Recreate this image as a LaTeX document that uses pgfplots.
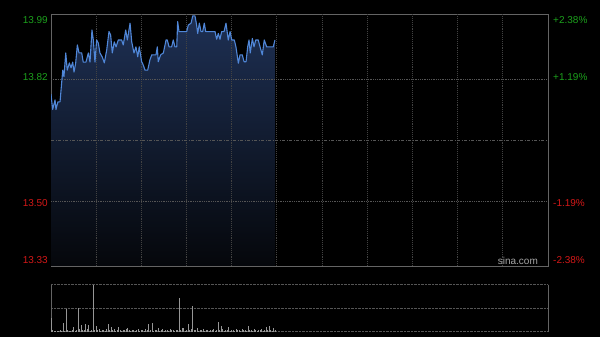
\documentclass[border=0pt]{standalone}
\usepackage{fontspec}
\setmainfont{Liberation Sans}
\usepackage{pgfplots}
\usepackage{pgfplotstable}
\pgfplotsset{compat=1.18}
\definecolor{upgreen}{RGB}{28,160,28}
\definecolor{downred}{RGB}{212,24,24}
\definecolor{linebl}{RGB}{80,135,216}
\definecolor{framegr}{RGB}{100,100,100}
\definecolor{gridgr}{RGB}{66,66,66}
\definecolor{hgridgr}{RGB}{85,85,85}
\definecolor{volgr}{RGB}{150,150,150}
\pgfplotstableread{
m p
0 13.78
1.1 13.74
2.7 13.765
3.3 13.74
4.6 13.76
6.0 13.76
7.8 13.843
8.6 13.826
9.8 13.888
10.8 13.843
12.2 13.862
13.3 13.849
14.4 13.864
15.3 13.838
16.4 13.862
17.5 13.909
18.6 13.888
20.4 13.888
21.4 13.864
23.2 13.864
24.8 13.888
25.9 13.864
27.2 13.948
28.1 13.922
29.2 13.864
30.3 13.922
31.4 13.914
32.5 13.888
34.1 13.877
35.4 13.862
37.0 13.896
38.5 13.944
39.6 13.935
40.7 13.888
42.0 13.917
43.2 13.904
44.7 13.922
46.9 13.922
48.0 13.909
49.6 13.948
50.7 13.922
52.5 13.966
53.6 13.917
55.1 13.888
56.4 13.904
57.6 13.878
58.6 13.904
60.2 13.865
61.3 13.856
62.4 13.843
64.2 13.843
65.7 13.870
66.9 13.883
69.7 13.883
70.6 13.904
71.2 13.865
72.8 13.883
74.6 13.888
76.4 13.922
77.2 13.922
78.4 13.904
80.1 13.904
81.2 13.922
82.3 13.904
83.5 13.904
84.1 13.970
85.0 13.944
90.1 13.944
91.2 13.961
93.0 13.966
94.1 13.985
95.6 13.985
96.7 13.961
97.4 13.939
98.5 13.966
99.6 13.944
100.7 13.944
101.8 13.966
102.7 13.944
108.9 13.944
110.0 13.924
111.1 13.939
112.2 13.924
113.3 13.944
114.9 13.944
116.2 13.966
117.7 13.922
118.9 13.944
120.0 13.922
121.7 13.922
122.8 13.904
124.4 13.861
125.5 13.883
127.0 13.883
128.2 13.865
129.5 13.865
130.6 13.904
131.5 13.922
132.3 13.888
133.7 13.926
134.8 13.904
135.9 13.922
137.6 13.922
138.8 13.904
140.3 13.883
141.6 13.922
143.2 13.904
144.8 13.904
147.6 13.904
148.7 13.922
}\pricetable
\pgfplotstableread{
m v
0 29
1 4
2 3
3 2
4 3
5 2
6 4
7 3
8 20
9 3
10 48
11 4
12 3
13 2
14 5
15 11
16 3
17 4
18 50
19 6
20 15
21 5
22 4
23 18
24 6
25 15
26 3
27 5
28 100
29 4
30 13
31 5
32 6
33 3
34 4
35 5
36 3
37 6
38 17
39 5
40 11
41 4
42 6
43 3
44 5
45 10
46 4
47 3
48 5
49 4
50 6
51 8
52 4
53 3
54 5
55 4
56 3
57 4
58 6
59 3
60 5
61 4
62 3
63 6
64 4
65 17
66 5
67 20
68 3
69 4
70 5
71 8
72 3
73 4
74 6
75 3
76 5
77 4
78 3
79 6
80 4
81 5
82 3
83 4
84 5
85 72
86 4
87 8
88 8
89 3
90 5
91 18
92 4
93 6
94 55
95 4
96 5
97 8
98 3
99 5
100 4
101 6
102 3
103 5
104 4
105 3
106 5
107 4
108 6
109 3
110 5
111 22
112 4
113 13
114 6
115 3
116 5
117 4
118 10
119 3
120 5
121 4
122 3
123 6
124 4
125 5
126 3
127 6
128 4
129 5
130 3
131 13
132 4
133 5
134 3
135 6
136 4
137 3
138 5
139 4
140 6
141 3
142 5
143 10
144 4
145 13
146 5
147 3
148 8
149 4
}\voltable
\begin{document}
\fontsize{10}{12}\selectfont
\begin{tikzpicture}[x=1pt,y=1pt]
\useasboundingbox (0,0) rectangle (600,337);
\fill[black] (0,0) rectangle (600,337);
% main price axis
\begin{axis}[
  at={(51pt,71pt)}, anchor=south west,
  scale only axis, width=497pt, height=252pt,
  xmin=0, xmax=330, ymin=13.33, ymax=13.99,
  axis line style={framegr, line width=0.8pt},
  xtick=\empty, ytick=\empty,
  clip=true,
]
\addplot[draw=none, top color={rgb,255:red,30;green,48;blue,84}, bottom color={rgb,255:red,5;green,7;blue,11}] table[x=m,y=p]{\pricetable} -- (axis cs:148.7,13.33) -- (axis cs:0,13.33) -- cycle;
\foreach \t in {30,60,...,300} {
  \edef\temp{\noexpand\draw[gridgr, densely dotted, line width=0.9pt] (axis cs:\t,13.33) -- (axis cs:\t,13.99);}
  \temp
}
\draw[hgridgr, densely dotted, line width=0.8pt] (axis cs:0,13.82) -- (axis cs:330,13.82);
\draw[hgridgr, densely dotted, line width=0.8pt] (axis cs:0,13.50) -- (axis cs:330,13.50);
\draw[hgridgr, dash pattern=on 3pt off 1.5pt on 1pt off 1.5pt, line width=0.8pt] (axis cs:0,13.66) -- (axis cs:330,13.66);
\addplot[linebl, line width=1.1pt, line join=round] table[x=m,y=p]{\pricetable};
\node[anchor=south east, text=gray!70!white, inner sep=1pt] at (rel axis cs:0.982,0.0) {sina.com};
\end{axis}
% left labels
\node[anchor=north east, text=upgreen, inner sep=0pt] at (48pt,321pt) {13.99};
\node[anchor=east, text=upgreen, inner sep=0pt] at (48pt,260pt) {13.82};
\node[anchor=east, text=downred, inner sep=0pt] at (48pt,134pt) {13.50};
\node[anchor=south east, text=downred, inner sep=0pt] at (48pt,73pt) {13.33};
% right labels
\node[anchor=north west, text=upgreen, inner sep=0pt] at (553pt,321pt) {+2.38\%};
\node[anchor=west, text=upgreen, inner sep=0pt] at (553pt,260pt) {+1.19\%};
\node[anchor=west, text=downred, inner sep=0pt] at (553pt,134pt) {-1.19\%};
\node[anchor=south west, text=downred, inner sep=0pt] at (553pt,73pt) {-2.38\%};
% volume axis
\begin{axis}[
  at={(51pt,5pt)}, anchor=south west,
  scale only axis, width=497pt, height=47pt,
  xmin=0, xmax=330, ymin=0, ymax=100,
  axis line style={draw=none},
  xtick=\empty, ytick={0,50,100}, yticklabels={},
  major tick length=0pt,
  ymajorgrids,
  grid style={gridgr!90!white, densely dotted, line width=1pt},
  clip=false,
]
\draw[framegr, line width=0.8pt] (rel axis cs:0,0) -- (rel axis cs:0,1);
\draw[framegr, line width=0.8pt] (rel axis cs:1,0) -- (rel axis cs:1,1);
\addplot[ycomb, volgr, line width=0.8pt, mark=none] table[x=m,y=v]{\voltable};
\end{axis}
\end{tikzpicture}
\end{document}
